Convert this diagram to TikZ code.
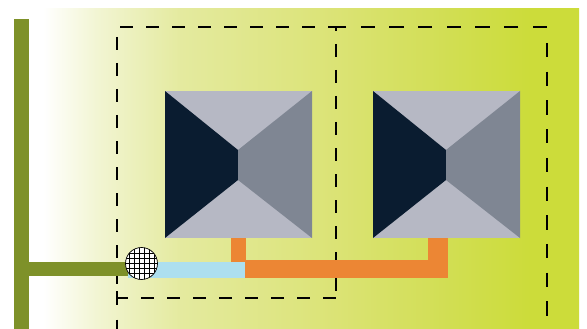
\documentclass[tikz,border=0pt]{standalone}
\definecolor{barolive}{HTML}{7E9129}
\definecolor{pipeblue}{HTML}{ADDFEF}
\definecolor{pipeorange}{HTML}{EC8634}
\definecolor{roofdark}{HTML}{0A1C30}
\definecolor{rooflight}{HTML}{B6B8C4}
\definecolor{roofmid}{HTML}{7F8693}
\definecolor{ga}{HTML}{F2F5D3}
\definecolor{gb}{HTML}{E4EA9F}
\definecolor{gc}{HTML}{DBE375}
\definecolor{gd}{HTML}{D1DE52}
\definecolor{ge}{HTML}{CCDC3A}
\pgfdeclarehorizontalshading{bggrad}{100bp}{color(0bp)=(white); color(25bp)=(white); color(30bp)=(ga); color(37.8bp)=(gb); color(52.3bp)=(gc); color(63bp)=(gd); color(70.4bp)=(ge); color(100bp)=(ge)}
\tikzset{
  dashleft/.style={draw=black,line width=1.5pt,dash pattern=on 13pt off 13pt},
  dashright/.style={draw=black,line width=1.5pt,dash pattern=on 14.3pt off 14.4pt},
}
\newcommand{\roofunit}[1]{%
  \begin{scope}[xshift=#1]
    \fill[rooflight] (165,91) rectangle (312,238);
    \fill[roofdark] (165,91) -- (238,150) -- (238,180) -- (165,238) -- cycle;
    \fill[roofmid] (312,91) -- (238,150) -- (238,180) -- (312,238) -- cycle;
  \end{scope}}
\begin{document}
\begin{tikzpicture}[x=1pt,y=-1pt]
\useasboundingbox (0,0) rectangle (587,329);
\fill[white] (0,0) rectangle (587,329);
\shade[shading=bggrad] (43,9) rectangle (579,329);
\fill[barolive] (14,19) rectangle (29,329);
\roofunit{0pt}
\roofunit{208pt}
\draw[dashleft] (120,27) -- (336,27);
\draw[dashleft] (117,37) -- (117,285);
\draw[dashright] (117,291) -- (117,329);
\draw[dashleft] (117,298) -- (128,298);
\draw[dashleft] (141,298) -- (336,298);
\draw[dashleft] (336,27) -- (336,31);
\draw[dashleft] (336,44) -- (336,298);
\draw[dashright] (547,27) -- (336,27);
\draw[dashright] (547,43) -- (547,329);
\fill[pipeorange] (231,237.5) rectangle (246,263);
\fill[pipeorange] (428,237.5) rectangle (448,260);
\fill[pipeorange] (245,259.5) rectangle (448,278);
\fill[barolive] (29,261.5) rectangle (128,276);
\fill[pipeblue] (128,262) rectangle (245,278);
\node[circle,minimum size=32pt,inner sep=0pt,draw=black,line width=.7pt,fill=white,path picture={
  \foreach \i in {-12.5,-7.5,...,12.5} {
    \draw[black,line width=.7pt] (\i pt,-20pt) -- (\i pt,20pt);
  }
  \foreach \i in {-10,-5,...,10} {
    \draw[black,line width=.6pt] (-20pt,\i pt) -- (20pt,\i pt);
  }}] (valve) at (141.5,263.5) {};
\end{tikzpicture}
\end{document}
